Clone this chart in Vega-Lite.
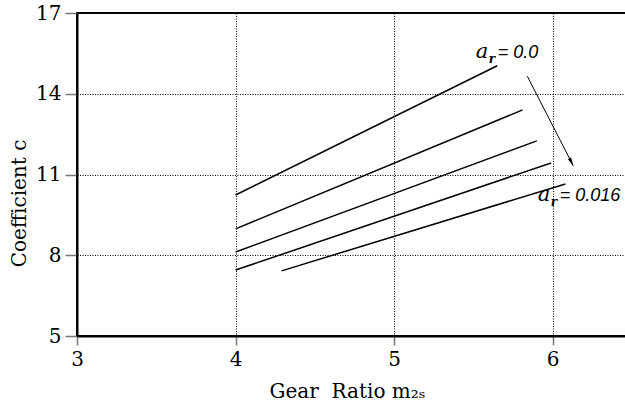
{
  "$schema": "https://vega.github.io/schema/vega-lite/v6.json",
  "width": 555,
  "height": 323,
  "autosize": {"type": "none"},
  "padding": {"left": 77, "top": 13, "right": 0, "bottom": 67},
  "background": "white",
  "config": {
    "view": {"stroke": "black", "strokeWidth": 2},
    "font": "DejaVu Serif",
    "axis": {
      "grid": true,
      "gridDash": [1, 1.5],
      "gridColor": "black",
      "gridOpacity": 1,
      "gridWidth": 1,
      "domainColor": "black",
      "domainWidth": 2,
      "tickColor": "#777777",
      "tickWidth": 1.5,
      "labelColor": "black",
      "labelFont": "DejaVu Serif",
      "labelFontSize": 20,
      "labelFlush": false,
      "labelOverlap": false,
      "format": "d",
      "titleFont": "DejaVu Serif",
      "titleFontSize": 20,
      "titleFontWeight": "normal",
      "titleColor": "black"
    }
  },
  "datasets": {
    "curves": [
      {"series": "a0", "m": 4.0, "c": 10.24},
      {"series": "a0", "m": 5.65, "c": 15.04},
      {"series": "a1", "m": 4.0, "c": 8.98},
      {"series": "a1", "m": 5.81, "c": 13.4},
      {"series": "a2", "m": 4.0, "c": 8.12},
      {"series": "a2", "m": 5.9, "c": 12.25},
      {"series": "a3", "m": 4.0, "c": 7.45},
      {"series": "a3", "m": 5.99, "c": 11.43},
      {"series": "a4", "m": 4.29, "c": 7.42},
      {"series": "a4", "m": 6.08, "c": 10.65}
    ],
    "arrow": [
      {"m": 5.84, "c": 14.65},
      {"m": 6.13, "c": 11.32}
    ],
    "head": [
      {"m": 6.13, "c": 11.32}
    ],
    "labels": [
      {"m": 5.514, "c": 15.33, "a": "a", "r": "r", "v": "= 0.0"},
      {"m": 5.905, "c": 10.02, "a": "a", "r": "r", "v": "= 0.016"}
    ]
  },
  "layer": [
    {
      "data": {"name": "curves"},
      "mark": {"type": "line", "color": "black", "strokeWidth": 1.5},
      "encoding": {
        "x": {
          "field": "m",
          "type": "quantitative",
          "scale": {"domain": [3, 6.5], "nice": false, "zero": false},
          "axis": {
            "values": [3, 4, 5, 6],
            "title": "Gear\u00a0 Ratio m₂ₛ",
            "tickSize": 9,
            "labelPadding": 4,
            "titleX": 270,
            "titleY": 61,
            "titleBaseline": "alphabetic"
          }
        },
        "y": {
          "field": "c",
          "type": "quantitative",
          "scale": {"domain": [5, 17], "nice": false, "zero": false},
          "axis": {
            "values": [5, 8, 11, 14, 17],
            "title": "Coefficient c",
            "tickSize": 12,
            "labelPadding": 4,
            "titleX": -52,
            "titleY": 190,
            "titleBaseline": "alphabetic"
          }
        },
        "detail": {"field": "series"}
      }
    },
    {
      "data": {"name": "arrow"},
      "mark": {"type": "line", "color": "black", "strokeWidth": 1},
      "encoding": {
        "x": {"field": "m", "type": "quantitative"},
        "y": {"field": "c", "type": "quantitative"}
      }
    },
    {
      "data": {"name": "head"},
      "mark": {
        "type": "point",
        "shape": "M0,0L-0.3,-1.4L0.3,-1.4Z",
        "filled": true,
        "color": "black",
        "opacity": 1,
        "size": 144,
        "angle": 333
      },
      "encoding": {
        "x": {"field": "m", "type": "quantitative"},
        "y": {"field": "c", "type": "quantitative"}
      }
    },
    {
      "data": {"name": "labels"},
      "mark": {
        "type": "text",
        "font": "DejaVu Serif",
        "fontStyle": "italic",
        "fontSize": 21,
        "align": "left",
        "baseline": "alphabetic",
        "color": "black"
      },
      "encoding": {
        "x": {"field": "m", "type": "quantitative"},
        "y": {"field": "c", "type": "quantitative"},
        "text": {"field": "a"}
      }
    },
    {
      "data": {"name": "labels"},
      "mark": {
        "type": "text",
        "font": "DejaVu Serif",
        "fontStyle": "italic",
        "fontWeight": "bold",
        "fontSize": 12,
        "align": "left",
        "baseline": "alphabetic",
        "dx": 13,
        "dy": 5,
        "color": "black"
      },
      "encoding": {
        "x": {"field": "m", "type": "quantitative"},
        "y": {"field": "c", "type": "quantitative"},
        "text": {"field": "r"}
      }
    },
    {
      "data": {"name": "labels"},
      "mark": {
        "type": "text",
        "font": "Liberation Sans",
        "fontStyle": "italic",
        "fontSize": 18,
        "align": "left",
        "baseline": "alphabetic",
        "dx": 22,
        "color": "black"
      },
      "encoding": {
        "x": {"field": "m", "type": "quantitative"},
        "y": {"field": "c", "type": "quantitative"},
        "text": {"field": "v"}
      }
    }
  ]
}
